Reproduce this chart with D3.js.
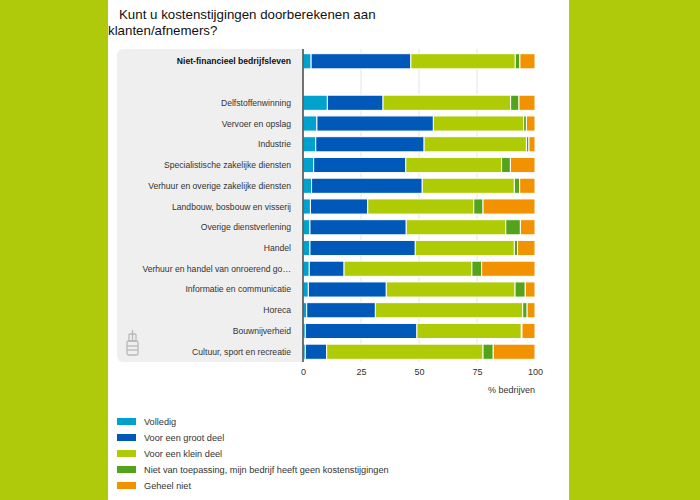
<!DOCTYPE html>
<html>
<head>
<meta charset="utf-8">
<script src="https://cdn.jsdelivr.net/npm/d3@7"></script>
<style>
  body { margin: 0; background: #afca0b; }
  svg { display: block; font-family: "Liberation Sans", Arial, sans-serif; }
</style>
</head>
<body>
<svg id="chart" width="700" height="500"></svg>
<script>
// categories (empty string = blank row under the total)
var categories = [
  "Niet-financieel bedrijfsleven", "",
  "Delfstoffenwinning", "Vervoer en opslag", "Industrie",
  "Specialistische zakelijke diensten", "Verhuur en overige zakelijke diensten",
  "Landbouw, bosbouw en visserij", "Overige dienstverlening", "Handel",
  "Verhuur en handel van onroerend go\u2026", "Informatie en communicatie",
  "Horeca", "Bouwnijverheid", "Cultuur, sport en recreatie"
];
var seriesNames = [
  "Volledig", "Voor een groot deel", "Voor een klein deel",
  "Niet van toepassing, mijn bedrijf heeft geen kostenstijgingen", "Geheel niet"
];
var colors = ["#00a1cd", "#0058b8", "#afcb05", "#53a31d", "#f39200"];

var volledig    = [3.5, null, 10.5, 6.0, 5.5, 4.6, 3.7, 3.2, 3.0, 3.0, 2.7, 2.3, 1.6, 1.0, 1.0];
var grootDeel   = [43.0, null, 24.0, 50.2, 46.7, 39.7, 47.7, 24.7, 41.5, 45.4, 15.0, 33.6, 29.6, 48.1, 9.2];
var kleinDeel   = [45.0, null, 55.0, 38.9, 44.1, 41.3, 39.7, 45.7, 42.9, 42.7, 55.1, 55.5, 63.5, 45.0, 67.4];
var nietVanToep = [2.0, null, 3.6, 1.2, 1.1, 3.8, 2.3, 4.0, 6.3, 1.4, 4.2, 4.4, 1.9, 0.3, 4.4];
var geheelNiet  = [6.5, null, 6.9, 3.7, 2.6, 10.6, 6.6, 22.4, 6.3, 7.5, 23.0, 4.2, 3.4, 5.6, 18.0];
var xTicks = [0, 25, 50, 75, 100];

var svg = d3.select("#chart");

// white page panel
svg.append("rect").attr("x", 108).attr("y", 0).attr("width", 461).attr("height", 500).attr("fill", "#fff");

// title
var title = svg.append("text").attr("font-size", 13.3).attr("fill", "#111");
title.append("tspan").attr("x", 119).attr("y", 19).text("Kunt u kostenstijgingen doorberekenen aan");
title.append("tspan").attr("x", 108).attr("y", 35).text("klanten/afnemers?");

var x = d3.scaleLinear().domain([0, 100]).range([303, 535]);
var y = d3.scaleBand().domain(categories.map(function(d, i) { return i; }))
  .range([51, 362]).paddingInner(0.27).paddingOuter(0.13);

// gray label panel
svg.append("rect").attr("x", 117).attr("y", 49).attr("width", 190).attr("height", 313)
  .attr("rx", 6).attr("fill", "#efefef");
svg.append("rect").attr("x", 303).attr("y", 49).attr("width", 10).attr("height", 313).attr("fill", "#fff");

// grid lines
svg.append("g").selectAll("line").data(xTicks.slice(1, 4)).join("line")
  .attr("x1", function(d) { return x(d); }).attr("x2", function(d) { return x(d); })
  .attr("y1", 49).attr("y2", 362)
  .attr("stroke", "#e4e4e4").attr("stroke-width", 1);

// stacked bars
var rows = categories.map(function(c, i) {
  return { cat: c, i: i, vals: [volledig[i], grootDeel[i], kleinDeel[i], nietVanToep[i], geheelNiet[i]] };
}).filter(function(r) { return r.vals[0] != null; });

var stack = d3.stack().keys([0, 1, 2, 3, 4]).value(function(d, k) { return d.vals[k] || 0; });
var layers = stack(rows);

svg.append("g").selectAll("g").data(layers).join("g")
  .attr("fill", function(d, k) { return colors[k]; })
  .selectAll("rect").data(function(d) { return d; }).join("rect")
  .attr("x", function(d) { return x(d[0]); })
  .attr("width", function(d) { return Math.max(0, x(d[1]) - x(d[0])); })
  .attr("y", function(d) { return y(d.data.i); })
  .attr("height", y.bandwidth())
  .attr("stroke", "#fff").attr("stroke-width", 1);

// category labels
svg.append("g").selectAll("text").data(rows).join("text")
  .attr("x", 291)
  .attr("y", function(d) { return y(d.i) + y.bandwidth() / 2; })
  .attr("dy", "0.35em")
  .attr("text-anchor", "end")
  .attr("font-size", 8.6)
  .attr("font-weight", function(d) { return d.i === 0 ? "bold" : "normal"; })
  .attr("fill", function(d) { return d.i === 0 ? "#111" : "#333"; })
  .text(function(d) { return d.cat; });

// y axis line
svg.append("line").attr("x1", 303).attr("x2", 303).attr("y1", 49).attr("y2", 362)
  .attr("stroke", "#444").attr("stroke-width", 1.5);

// x axis
var xAxis = svg.append("g").attr("transform", "translate(0,362)")
  .call(d3.axisBottom(x).tickValues(xTicks).tickSize(0).tickPadding(7));
xAxis.select(".domain").remove();
xAxis.selectAll("text").attr("font-size", 9).attr("fill", "#333")
  .attr("font-family", "Liberation Sans, Arial, sans-serif");

svg.append("text").attr("x", 535).attr("y", 393).attr("text-anchor", "end")
  .attr("font-size", 9).attr("fill", "#333").text("% bedrijven");

// logo (simple outline)
var logo = svg.append("g").attr("stroke", "#b8b8b8").attr("fill", "none").attr("stroke-width", 1.3);
logo.append("rect").attr("x", 127).attr("y", 341).attr("width", 11).attr("height", 14).attr("rx", 1.5);
logo.append("line").attr("x1", 127).attr("x2", 138).attr("y1", 346).attr("y2", 346);
logo.append("line").attr("x1", 127).attr("x2", 138).attr("y1", 350).attr("y2", 350);
logo.append("rect").attr("x", 129).attr("y", 334).attr("width", 7).attr("height", 7).attr("rx", 1);
logo.append("line").attr("x1", 132.5).attr("x2", 132.5).attr("y1", 330).attr("y2", 341);

// legend
var legend = svg.append("g").selectAll("g").data(seriesNames).join("g")
  .attr("transform", function(d, k) { return "translate(117," + (422 + k * 16) + ")"; });
legend.append("rect").attr("x", 0).attr("y", -4).attr("width", 19).attr("height", 7)
  .attr("fill", function(d, k) { return colors[k]; });
legend.append("text").attr("x", 27).attr("y", 0).attr("dy", "0.35em")
  .attr("font-size", 9.2).attr("fill", "#333").text(function(d) { return d; });
</script>
</body>
</html>
